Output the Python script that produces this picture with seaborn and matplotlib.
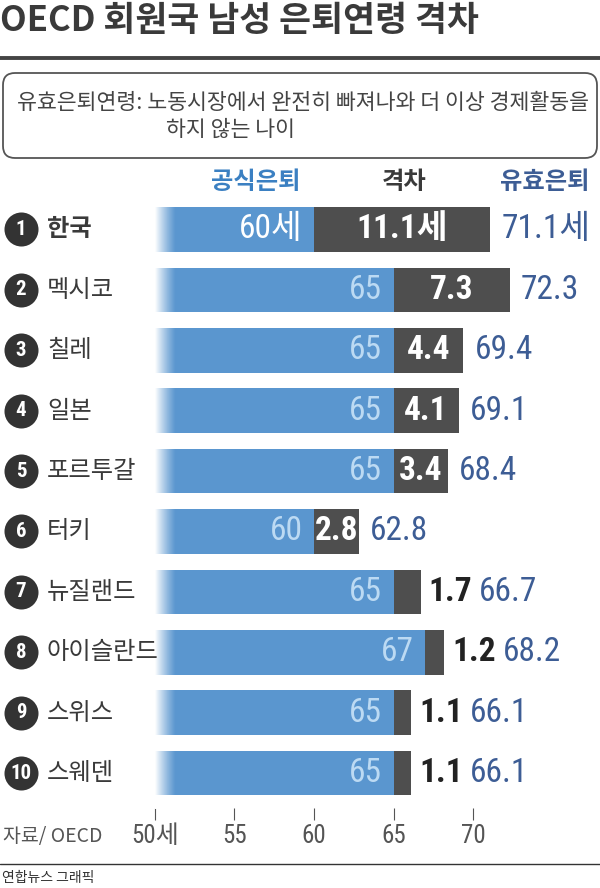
import matplotlib
matplotlib.use("Agg")
import matplotlib.pyplot as plt
import matplotlib.transforms as mtrans
from matplotlib import font_manager
from matplotlib.patches import FancyBboxPatch
import numpy as np
import pandas as pd
import seaborn as sns

# ---------------- data ----------------
ranks = [1, 2, 3, 4, 5, 6, 7, 8, 9, 10]
countries = ["한국", "멕시코", "칠레", "일본", "포르투갈", "터키", "뉴질랜드", "아이슬란드", "스위스", "스웨덴"]
official = [60, 65, 65, 65, 65, 60, 65, 67, 65, 65]
gap = [11.1, 7.3, 4.4, 4.1, 3.4, 2.8, 1.7, 1.2, 1.1, 1.1]
effective = [71.1, 72.3, 69.4, 69.1, 68.4, 62.8, 66.7, 68.2, 66.1, 66.1]
axis_ticks = [50, 55, 60, 65, 70]
axis_tick_labels = ["50세", "55", "60", "65", "70"]
headers = ["공식은퇴", "격차", "유효은퇴"]
title = "OECD 회원국 남성 은퇴연령 격차"
note_line1 = "유효은퇴연령: 노동시장에서 완전히 빠져나와 더 이상 경제활동을"
note_line2 = "하지 않는 나이"
source = "자료/ OECD"
credit = "연합뉴스 그래픽"

# ---------------- style ----------------
BLUE = "#5a96cf"
DARK = "#4e4e4e"
EFF_BLUE = "#3d5d95"
HEAD_BLUE = "#3b80c2"
LIGHT = "#bcdaf3"
TEXT = "#3a3a3a"

sns.set_theme(style="white")
KR = "Noto Sans CJK KR"
plt.rcParams["font.family"] = [KR, "DejaVu Sans"]


def pick_narrow():
    entries = font_manager.fontManager.ttflist
    names = {f.name for f in entries}
    for p in ["Liberation Sans Narrow", "Arial Narrow", "Roboto Condensed",
              "Noto Sans Condensed", "Noto Sans SemiCondensed", "Open Sans Condensed",
              "DejaVu Sans Condensed"]:
        if p in names:
            return p, "normal"
    for base in ["Noto Sans", "Roboto", "Open Sans", "DejaVu Sans", "Liberation Sans"]:
        for st in ("condensed", "semi-condensed", "extra-condensed"):
            for f in entries:
                if f.name == base and str(f.stretch) == st:
                    return base, st
    return "Roboto", "normal"


NUM, NUM_STRETCH = pick_narrow()
NUMF = [NUM, KR]

W, H = 600, 888
fig = plt.figure(figsize=(W / 100, H / 100), dpi=100)
fig.patch.set_facecolor("white")

X0, PPU = 155, 15.9          # pixel of value 50, pixels per year
ROW0, STEP = 229.5, 60.4     # pixel of first row centre, row spacing

ax = fig.add_axes([X0 / W, 0, (W - X0) / W, 1])
df = pd.DataFrame(dict(country=countries, official=official, gap=gap, effective=effective))
sns.barplot(data=df, x="effective", y="country", orient="h", color=DARK, saturation=1,
            width=0.737, errorbar=None, linewidth=0, ax=ax, zorder=1)
sns.barplot(data=df, x="official", y="country", orient="h", color=BLUE, saturation=1,
            width=0.737, errorbar=None, linewidth=0, ax=ax, zorder=2)

# white fade at the left end of the bars
grad = np.ones((1, 64, 4))
grad[0, :, 3] = np.linspace(1, 0, 64) ** 1.2
ax.imshow(grad, extent=[50, 51.3, len(countries) - 0.4, -0.6], aspect="auto",
          zorder=3, interpolation="bilinear")

XMAX = 50 + (W - X0) / PPU
ax.set_xlim(50, XMAX)
ax.set_ylim((H - ROW0) / STEP, -ROW0 / STEP)
ax.axis("off")

# decoration axes in pixel units
deco = fig.add_axes([0, 0, 1, 1], zorder=5)
deco.set_xlim(0, W)
deco.set_ylim(H, 0)
deco.patch.set_alpha(0)
deco.axis("off")

bt = mtrans.blended_transform_factory(deco.transData, ax.transData)   # x pixel, y row
bx = mtrans.blended_transform_factory(ax.transData, deco.transData)   # x value, y pixel

numkw = dict(family=NUMF, fontstretch=NUM_STRETCH)

for i in range(len(countries)):
    korea = i == 0
    ax.scatter([21], [i], transform=bt, s=600, color="#333333", clip_on=False, zorder=6,
               linewidths=0)
    ax.text(21, i, str(ranks[i]), transform=bt, ha="center", va="center", color="white",
            fontsize=15, weight="bold", zorder=7, **numkw)
    ax.text(47, i, countries[i], transform=bt, ha="left", va="center", color=TEXT,
            fontsize=17.5, weight="bold" if korea else "normal", zorder=7)

    suf = "세" if korea else ""
    ax.text(official[i] - 0.7, i, f"{official[i]}{suf}", ha="right", va="center",
            color="white" if korea else LIGHT, fontsize=24, zorder=6, **numkw)
    if gap[i] >= 2:
        ax.text(official[i] + gap[i] / 2, i, f"{gap[i]:.1f}{suf}", ha="center", va="center",
                color="white", fontsize=24, weight="bold", zorder=6, **numkw)
        ex = effective[i] + 0.7
    else:
        ax.text(effective[i] + 0.5, i, f"{gap[i]:.1f}", ha="left", va="center",
                color="#222222", fontsize=24, weight="bold", zorder=6, **numkw)
        ex = effective[i] + 3.7
    ax.text(ex, i, f"{effective[i]:.1f}{suf}", ha="left", va="center", color=EFF_BLUE,
            fontsize=24, zorder=6, **numkw)

# axis ticks
ax.vlines(axis_ticks, 808, 820, transform=bx, color="#555555", lw=0.8, clip_on=False)
for t, lab in zip(axis_ticks, axis_tick_labels):
    ax.text(t, 836, lab, transform=bx, ha="center", va="center", color="#555555",
            fontsize=18, **numkw)

# title and rules
deco.text(0, 20, title, ha="left", va="center", fontsize=25, weight="bold", color=TEXT)
deco.plot([0, W], [58, 58], color="#444444", lw=2.8, solid_capstyle="butt")

box = FancyBboxPatch((3, 73), 594, 85, boxstyle="round,pad=0,rounding_size=12",
                     facecolor="white", edgecolor="#555555", lw=1.3)
deco.add_patch(box)
deco.text(303, 103, note_line1, ha="center", va="center", fontsize=15.6, color="#444444")
deco.text(166, 130, note_line2, ha="left", va="center", fontsize=15.6, color="#444444")

deco.text(256, 182, headers[0], ha="center", va="center", fontsize=17.5, weight="bold", color=HEAD_BLUE)
deco.text(404, 182, headers[1], ha="center", va="center", fontsize=17.5, weight="bold", color=TEXT)
deco.text(545, 182, headers[2], ha="center", va="center", fontsize=17.5, weight="bold", color=EFF_BLUE)

deco.text(3, 836, source, ha="left", va="center", fontsize=14, color="#555555")
deco.plot([0, W], [864, 864], color="#333333", lw=1)
deco.text(2, 878, credit, ha="left", va="center", fontsize=10, color="#333333")

fig.savefig("out.png", dpi=100, facecolor="white")
